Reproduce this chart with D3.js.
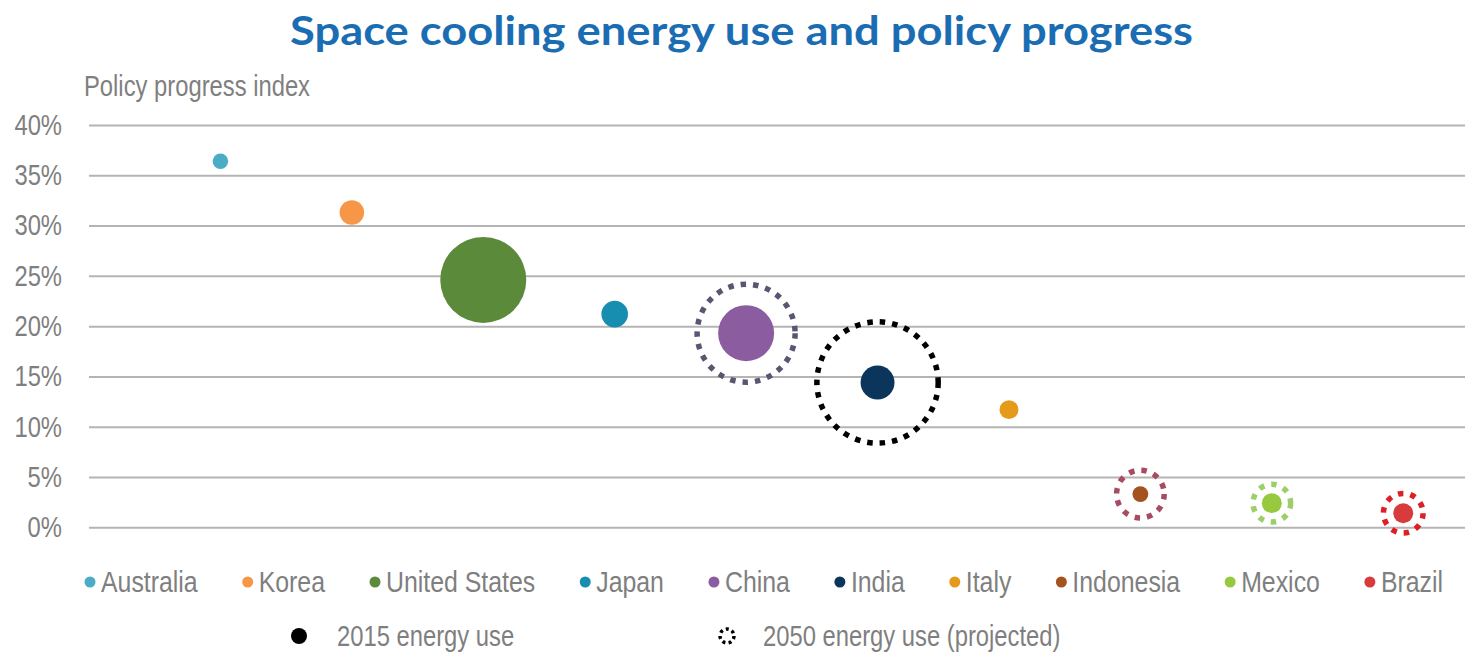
<!DOCTYPE html>
<html>
<head>
<meta charset="utf-8">
<script src="https://cdn.jsdelivr.net/npm/d3@7"></script>
<style>
  html, body { margin: 0; padding: 0; background: #ffffff; }
  svg { display: block; }
  .narrow { font-family: "Liberation Sans", Arial, sans-serif; }
</style>
</head>
<body>
<svg id="chart" width="1465" height="653"></svg>
<script>
// Countries along the horizontal axis, in plotting order
const countries = ["Australia", "Korea", "United States", "Japan", "China", "India", "Italy", "Indonesia", "Mexico", "Brazil"];
// Policy progress index (%)
const policyIndex = [36.4, 31.3, 24.6, 21.2, 19.3, 14.4, 11.7, 3.3, 2.4, 1.4];
// Space cooling energy use, TWh
const energy2015 = [20, 50, 616, 59, 261, 96, 30, 21, 33, 33];
const energy2050 = [null, null, null, null, 800, 1225, null, 189, 118, 131];
// Series colours
const fillColors = ["#4bacc6", "#f79646", "#5a8a3a", "#178db0", "#8b5ca0", "#0b355a", "#e59a1c", "#a4521e", "#96c93d", "#d83b3b"];
const ringColors = [null, null, null, null, "#5c5470", "#000000", null, "#a84b62", "#9ccf6a", "#dd1f26"];
// Axis ticks
const yTicks = [0, 5, 10, 15, 20, 25, 30, 35, 40];

const FONT_SIZE = "29px";
const TEXT_GREY = "#7f7f7f";

// Condense a text run horizontally to a narrow face
function condense(sel, factor = 0.82) {
  sel.each(function () {
    const len = this.getComputedTextLength();
    d3.select(this)
      .attr("textLength", len * factor)
      .attr("lengthAdjust", "spacingAndGlyphs");
  });
  return sel;
}

const svg = d3.select("#chart");

const x = d3.scaleLinear().domain([0, 10.47]).range([89, 1465]);
const y = d3.scaleLinear().domain([0, 40]).range([527.3, 125]);
const r = d3.scaleSqrt().domain([0, 616]).range([0, 43]);

// Title
svg.append("text")
  .attr("x", 290).attr("y", 45)
  .attr("textLength", 903).attr("lengthAdjust", "spacingAndGlyphs")
  .style("font-family", "Lato, 'Open Sans', sans-serif")
  .style("font-weight", "700")
  .style("font-size", "40px")
  .style("fill", "#1b6db3")
  .text("Space cooling energy use and policy progress");

// Y axis title
svg.append("text").attr("class", "narrow")
  .attr("x", 84).attr("y", 96)
  .style("font-size", FONT_SIZE).style("fill", TEXT_GREY)
  .text("Policy progress index")
  .call(condense);

// Gridlines and tick labels via d3 axis
const yAxis = d3.axisLeft(y)
  .tickValues(yTicks)
  .tickSize(-(1465 - 89))
  .tickPadding(27)
  .tickFormat(d => d + "%");

const gy = svg.append("g").attr("transform", "translate(89,0)").call(yAxis);
gy.select(".domain").remove();
gy.selectAll(".tick line").attr("stroke", "#b4b4b4").attr("stroke-width", 2);
gy.selectAll(".tick text")
  .attr("class", "narrow")
  .style("font-size", FONT_SIZE)
  .style("fill", TEXT_GREY)
  .call(condense);

const data = countries.map((c, i) => ({
  name: c, idx: i + 1, p: policyIndex[i],
  e15: energy2015[i], e50: energy2050[i],
  fill: fillColors[i], ring: ringColors[i]
}));

// Projected 2050 rings
svg.append("g").selectAll("circle")
  .data(data.filter(d => d.e50 != null))
  .join("circle")
  .attr("cx", d => x(d.idx))
  .attr("cy", d => y(d.p))
  .attr("r", d => r(d.e50))
  .attr("fill", "none")
  .attr("stroke", d => d.ring)
  .attr("stroke-width", 5.5)
  .attr("stroke-dasharray", "5.5,7");

// 2015 bubbles
svg.append("g").selectAll("circle")
  .data(data)
  .join("circle")
  .attr("cx", d => x(d.idx))
  .attr("cy", d => y(d.p))
  .attr("r", d => r(d.e15))
  .attr("fill", d => d.fill);

// Country legend (row 1)
const leg = svg.append("g");
let cursor = 90;
data.forEach(d => {
  const item = leg.append("g");
  item.append("circle").attr("cx", cursor).attr("cy", 582).attr("r", 5.5).attr("fill", d.fill);
  const t = item.append("text").attr("class", "narrow")
    .attr("x", cursor + 11).attr("y", 582).attr("dy", "0.35em")
    .style("font-size", FONT_SIZE).style("fill", TEXT_GREY)
    .text(d.name)
    .call(condense, 0.857);
  cursor = cursor + 11 + (+t.attr("textLength")) + 50;
});

// Size legend (row 2)
const leg2 = svg.append("g");
leg2.append("circle").attr("cx", 299).attr("cy", 636).attr("r", 8).attr("fill", "#000");
leg2.append("text").attr("class", "narrow")
  .attr("x", 337).attr("y", 636).attr("dy", "0.35em")
  .style("font-size", FONT_SIZE).style("fill", TEXT_GREY)
  .text("2015 energy use")
  .call(condense);
leg2.append("circle").attr("cx", 727).attr("cy", 636).attr("r", 7)
  .attr("fill", "none").attr("stroke", "#000").attr("stroke-width", 3.5)
  .attr("stroke-dasharray", "3,3.3");
leg2.append("text").attr("class", "narrow")
  .attr("x", 763).attr("y", 636).attr("dy", "0.35em")
  .style("font-size", FONT_SIZE).style("fill", TEXT_GREY)
  .text("2050 energy use (projected)")
  .call(condense);
</script>
</body>
</html>
